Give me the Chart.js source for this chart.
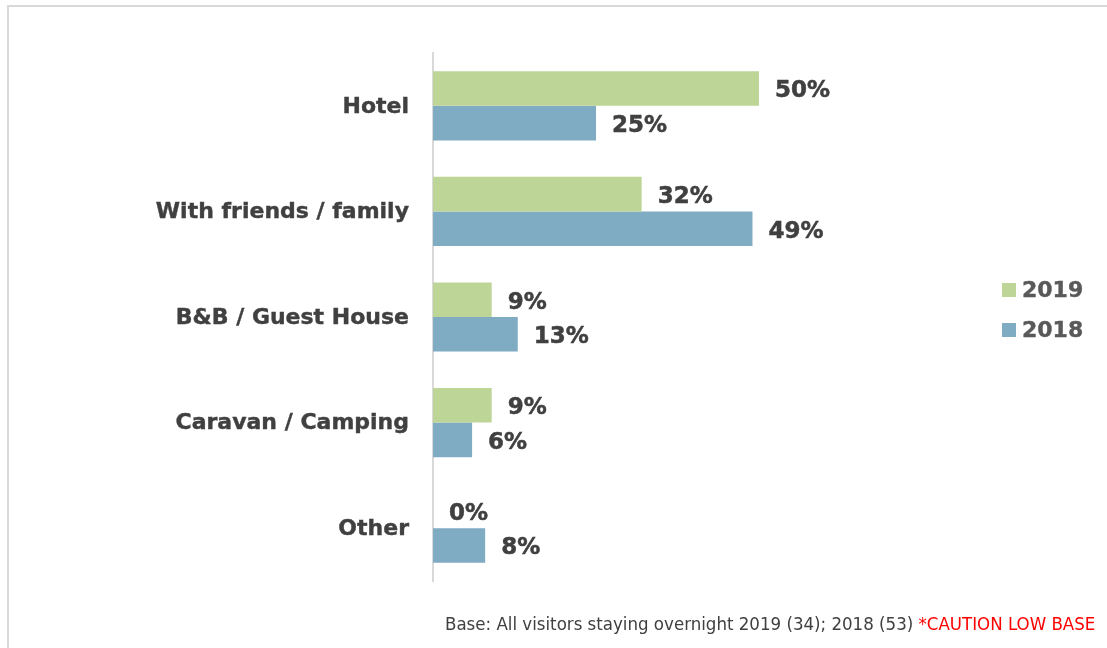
<!DOCTYPE html>
<html>
<head>
<meta charset="utf-8">
<script src="https://cdn.jsdelivr.net/npm/chart.js@4"></script>
<style>
    html, body { margin: 0; padding: 0; background: #fff; }
    #wrap { position: relative; width: 1107px; height: 648px; overflow: hidden; }
    #frame {
        position: absolute; left: 7px; top: 5px; width: 1200px; height: 700px;
        border-left: 2px solid #d9d9d9; border-top: 2px solid #d9d9d9;
    }
    canvas { position: absolute; left: 0; top: 0; }
    .legend {
        position: absolute; left: 1002px; font: bold 22px "DejaVu Sans", sans-serif;
        color: #595959; display: flex; align-items: center;
        -webkit-text-stroke: 0.4px #595959;
    }
    .legend span.box { width: 14px; height: 14px; margin-right: 6px; display: inline-block; }
    #note {
        position: absolute; left: 445px; top: 613px; white-space: nowrap; line-height: 22px;
        font: 18.5px "DejaVu Sans Condensed", "DejaVu Sans", sans-serif; color: #404040;
    }
    #note .warn { color: #ff0000; }
</style>
</head>
<body>
<div id="wrap">
    <div id="frame"></div>
    <canvas id="accomChart" width="1107" height="648"></canvas>
    <div class="legend" style="top: 277px"><span class="box" style="background:#bdd597"></span>2019</div>
    <div class="legend" style="top: 317px"><span class="box" style="background:#7fabc3"></span>2018</div>
    <div id="note">Base: All visitors staying overnight 2019 (34); 2018 (53) <span class="warn">*CAUTION LOW BASE</span></div>
</div>
<script>
const categories = ['Hotel', 'With friends / family', 'B&B / Guest House', 'Caravan / Camping', 'Other'];
const values2019 = [50, 32, 9, 9, 0];
const values2018 = [25, 49, 13, 6, 8];

// value labels drawn just past the end of each bar
const barLabels = {
    id: 'barLabels',
    afterDatasetsDraw(chart) {
        const ctx = chart.ctx;
        ctx.save();
        ctx.font = 'bold 23px "DejaVu Sans", sans-serif';
        ctx.fillStyle = '#404040';
        ctx.strokeStyle = '#404040';
        ctx.lineWidth = 0.5;
        ctx.textAlign = 'left';
        ctx.textBaseline = 'middle';
        chart.data.datasets.forEach((ds, i) => {
            chart.getDatasetMeta(i).data.forEach((bar, j) => {
                const txt = ds.data[j] + '%';
                ctx.fillText(txt, bar.x + 16, bar.y + 3);
                ctx.strokeText(txt, bar.x + 16, bar.y + 3);
            });
        });
        ctx.restore();
    }
};

const ctx = document.getElementById('accomChart').getContext('2d');
new Chart(ctx, {
    type: 'bar',
    data: {
        labels: categories,
        datasets: [
            { label: '2019', data: values2019, backgroundColor: '#bdd597' },
            { label: '2018', data: values2018, backgroundColor: '#7fabc3' }
        ]
    },
    options: {
        indexAxis: 'y',
        responsive: false,
        animation: false,
        layout: { padding: { left: 0, top: 53, right: 22, bottom: 67 } },
        datasets: {
            bar: { categoryPercentage: 0.655, barPercentage: 1 }
        },
        scales: {
            x: { display: false, min: 0, max: 100 },
            y: {
                afterFit(scale) { scale.width = 433; },
                grid: { display: false },
                border: { display: true, color: '#d9d9d9', width: 2 },
                ticks: {
                    color: '#404040',
                    padding: 16,
                    labelOffset: 1,
                    textStrokeColor: '#404040',
                    textStrokeWidth: 0.4,
                    font: { family: '"DejaVu Sans", sans-serif', size: 22, weight: 'bold' }
                }
            }
        },
        plugins: {
            legend: { display: false },
            tooltip: { enabled: false }
        }
    },
    plugins: [barLabels]
});
</script>
</body>
</html>
